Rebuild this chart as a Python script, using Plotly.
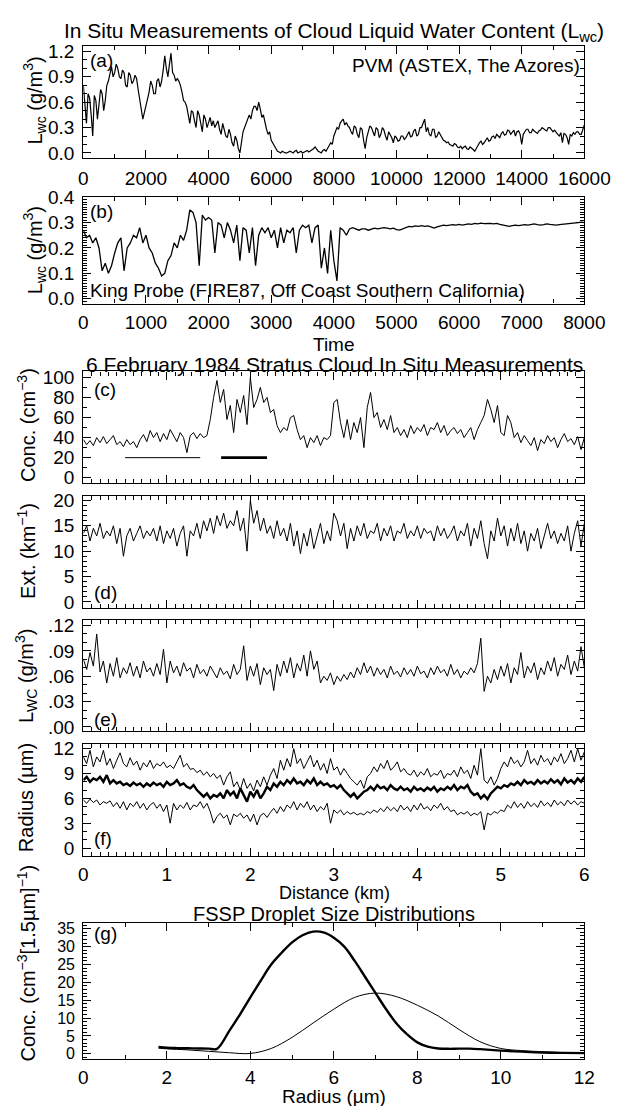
import plotly.graph_objects as go

# ---------------- data ----------------
# (a) PVM, ASTEX, sampled every 50 time units
pvm_step = 50
pvm_lwc = [0.80, 0.55, 0.35, 0.70, 0.65, 0.45, 0.20, 0.68, 0.62, 0.40,
           0.55, 0.75, 0.70, 0.50, 0.62, 0.80, 0.85, 0.95, 1.02, 0.90,
           0.95, 1.05, 1.00, 0.90, 0.88, 0.98, 0.95, 0.80, 0.78, 0.95,
           0.92, 0.82, 0.85, 0.92, 0.88, 0.75, 0.62, 0.50, 0.40, 0.48,
           0.55, 0.65, 0.72, 0.85, 0.80, 0.70, 0.70, 0.85, 0.88, 0.78,
           0.85, 0.98, 1.15, 1.00, 0.90, 1.05, 1.18, 0.95, 0.92, 0.85,
           0.88, 0.85, 0.80, 0.72, 0.62, 0.60, 0.55, 0.45, 0.35, 0.50,
           0.48, 0.38, 0.30, 0.50, 0.45, 0.35, 0.25, 0.45, 0.40, 0.30,
           0.35, 0.42, 0.32, 0.38, 0.30, 0.35, 0.38, 0.28, 0.22, 0.35,
           0.28, 0.20, 0.18, 0.28, 0.22, 0.12, 0.08, 0.20, 0.15, 0.05,
           0.00, 0.12, 0.25, 0.30, 0.35, 0.42, 0.45, 0.40, 0.50, 0.55,
           0.55, 0.50, 0.60, 0.52, 0.42, 0.45, 0.35, 0.28, 0.22, 0.25,
           0.15, 0.12, 0.08, 0.05, 0.02, 0.01, 0.00, 0.02, 0.01, 0.00,
           0.00, 0.01, 0.02, 0.01, 0.00, 0.02, 0.03, 0.00, 0.01, 0.02,
           0.00, 0.01, 0.02, 0.03, 0.01, 0.02, 0.03, 0.05, 0.07, 0.04,
           0.02, 0.01, 0.00, 0.03, 0.04, 0.02, 0.05, 0.08, 0.12, 0.10,
           0.20, 0.25, 0.30, 0.28, 0.35, 0.38, 0.40, 0.33, 0.36, 0.32,
           0.30, 0.25, 0.22, 0.32, 0.30, 0.22, 0.18, 0.30, 0.28, 0.15,
           0.05, 0.18, 0.25, 0.32, 0.30, 0.24, 0.20, 0.30, 0.28, 0.18,
           0.22, 0.30, 0.27, 0.20, 0.15, 0.25, 0.22, 0.18, 0.12, 0.20,
           0.18, 0.14, 0.15, 0.20, 0.20, 0.16, 0.18, 0.22, 0.25, 0.19,
           0.20, 0.26, 0.28, 0.20, 0.22, 0.30, 0.30, 0.35, 0.40, 0.25,
           0.30, 0.22, 0.20, 0.28, 0.28, 0.18, 0.20, 0.25, 0.22, 0.18,
           0.15, 0.14, 0.12, 0.13, 0.10, 0.09, 0.08, 0.11, 0.10, 0.07,
           0.06, 0.08, 0.05, 0.07, 0.08, 0.05, 0.04, 0.07, 0.06, 0.04,
           0.02, 0.06, 0.10, 0.12, 0.14, 0.10, 0.12, 0.16, 0.18, 0.14,
           0.15, 0.19, 0.20, 0.17, 0.22, 0.20, 0.18, 0.23, 0.25, 0.21,
           0.22, 0.27, 0.26, 0.22, 0.24, 0.27, 0.20, 0.25, 0.26, 0.22,
           0.10, 0.22, 0.25, 0.28, 0.28, 0.24, 0.24, 0.28, 0.26, 0.24,
           0.23, 0.26, 0.27, 0.30, 0.29, 0.27, 0.26, 0.30, 0.30, 0.27,
           0.25, 0.27, 0.24, 0.22, 0.20, 0.24, 0.12, 0.23, 0.22, 0.18,
           0.10, 0.22, 0.20, 0.24, 0.22, 0.25, 0.25, 0.22, 0.22, 0.27,
           0.33]
pvm_time = [pvm_step * i for i in range(len(pvm_lwc))]

# (b) King probe, FIRE87, sampled every 50 time units
king_step = 50
king_lwc = [0.27, 0.24, 0.25, 0.22, 0.24, 0.20, 0.11, 0.14, 0.10, 0.13,
            0.18, 0.22, 0.24, 0.11, 0.20, 0.22, 0.25, 0.24, 0.28, 0.22,
            0.25, 0.20, 0.18, 0.14, 0.12, 0.09, 0.10, 0.15, 0.17, 0.22,
            0.20, 0.25, 0.23, 0.27, 0.35, 0.34, 0.30, 0.13, 0.33, 0.31,
            0.32, 0.31, 0.18, 0.30, 0.29, 0.24, 0.30, 0.27, 0.22, 0.29,
            0.15, 0.28, 0.27, 0.18, 0.28, 0.13, 0.25, 0.28, 0.26, 0.28,
            0.24, 0.27, 0.20, 0.28, 0.22, 0.27, 0.26, 0.28, 0.18, 0.27,
            0.29, 0.28, 0.29, 0.22, 0.28, 0.29, 0.12, 0.20, 0.10, 0.27,
            0.15, 0.07, 0.28, 0.27, 0.25, 0.275, 0.28, 0.275, 0.27, 0.275,
            0.275, 0.27, 0.275, 0.278, 0.275, 0.278, 0.28, 0.278, 0.275, 0.278,
            0.272, 0.27, 0.275, 0.28, 0.285, 0.283, 0.287, 0.285, 0.288, 0.285,
            0.287, 0.283, 0.278, 0.283, 0.287, 0.29, 0.288, 0.29, 0.292, 0.29,
            0.293, 0.29, 0.292, 0.295, 0.293, 0.297, 0.295, 0.298, 0.296, 0.298,
            0.297, 0.295, 0.297, 0.293, 0.29, 0.287, 0.285, 0.288, 0.29, 0.288,
            0.29, 0.292, 0.29, 0.293, 0.295, 0.292, 0.29, 0.292, 0.295, 0.293,
            0.292, 0.29, 0.292, 0.293, 0.295, 0.297, 0.296, 0.298, 0.30, 0.302,
            0.30]
king_time = [king_step * i for i in range(len(king_lwc))]

# (c)-(f) 6 February 1984 stratus, sampled every 0.04 km
conc = [38, 33, 37, 32, 40, 35, 41, 34, 38, 42, 33, 36, 31, 38, 33, 36, 30, 38, 43, 36,
        47, 40, 45, 36, 44, 38, 48, 42, 36, 45, 40, 25, 42, 45, 39, 44, 40, 42, 58, 80,
        97, 75, 88, 58, 72, 45, 78, 65, 82, 53, 100, 70, 78, 90, 75, 80, 65, 68, 52, 45,
        50, 47, 60, 62, 48, 38, 42, 30, 40, 35, 42, 32, 40, 38, 42, 75, 78, 55, 40, 58,
        38, 55, 45, 60, 30, 70, 85, 60, 65, 50, 58, 48, 62, 45, 50, 42, 48, 40, 52, 44,
        50, 46, 53, 42, 50, 48, 55, 45, 52, 42, 47, 50, 44, 48, 40, 45, 50, 38, 48, 55,
        62, 78, 68, 55, 72, 45, 42, 62, 55, 40, 45, 35, 42, 37, 32, 40, 27, 38, 34, 42,
        36, 40, 30, 38, 44, 36, 39, 33, 41, 28, 40]
distance_km = [round(i * 0.04, 2) for i in range(len(conc))]
conc_bar_thin = [0.5, 1.4]
conc_bar_thick = [1.65, 2.2]
conc_bar_level = [20, 20]

ext = [13.5, 15.0, 12.0, 14.5, 13.0, 15.5, 12.5, 14.0, 13.0, 15.0, 11.5, 14.5, 9.0, 13.0, 14.5,
       12.0, 13.5, 15.0, 12.5, 14.0, 13.0, 14.5, 12.0, 15.0, 11.5, 14.0, 12.5, 14.5, 11.0, 13.5,
       15.0, 9.0, 14.0, 13.0, 15.5, 12.5, 16.0, 14.0, 16.5, 13.5, 17.0, 15.0, 17.5, 14.5, 16.0,
       15.0, 18.0, 14.0, 16.5, 10.0, 20.0, 15.5, 18.0, 14.0, 16.5, 13.5, 15.0, 12.5, 16.0, 13.0,
       14.5, 12.0, 15.5, 11.0, 14.0, 9.5, 13.5, 11.0, 14.5, 10.5, 13.0, 15.5, 11.5, 14.0, 12.0,
       17.5, 16.0, 13.0, 15.5, 10.5, 14.5, 12.0, 15.0, 13.0, 15.5, 12.5, 14.0, 13.5, 15.5, 12.0,
       14.5, 13.0, 15.0, 12.0, 14.0, 13.5, 15.5, 12.5, 14.0, 13.0, 15.0, 12.5, 14.5, 13.5, 14.0,
       12.0, 15.0, 13.0, 14.5, 12.5, 13.5, 15.0, 12.0, 14.0, 13.0, 15.5, 11.0, 14.5, 12.5, 16.0,
       11.5, 8.5, 14.0, 12.0, 16.5, 13.0, 15.0, 11.0, 14.5, 12.0, 15.5, 11.5, 14.0, 10.0, 13.5,
       12.0, 14.5, 10.5, 13.0, 15.5, 12.5, 14.0, 11.5, 13.5, 12.0, 15.0, 10.0, 13.5, 16.0, 11.0,
       15.5]

lwc_e = [0.080, 0.068, 0.088, 0.072, 0.110, 0.065, 0.078, 0.052, 0.075, 0.060,
         0.082, 0.058, 0.070, 0.063, 0.076, 0.060, 0.072, 0.058, 0.078, 0.065,
         0.070, 0.060, 0.075, 0.062, 0.092, 0.052, 0.078, 0.064, 0.072, 0.060,
         0.076, 0.066, 0.070, 0.058, 0.074, 0.063, 0.068, 0.060, 0.072, 0.065,
         0.058, 0.070, 0.062, 0.066, 0.057, 0.074, 0.062, 0.068, 0.096, 0.055,
         0.072, 0.060, 0.075, 0.050, 0.070, 0.062, 0.068, 0.043, 0.074, 0.060,
         0.078, 0.064, 0.082, 0.058, 0.075, 0.066, 0.085, 0.060, 0.090, 0.068,
         0.078, 0.052, 0.060, 0.055, 0.064, 0.050, 0.060, 0.054, 0.062, 0.056,
         0.065, 0.058, 0.070, 0.062, 0.076, 0.064, 0.072, 0.060, 0.070, 0.062,
         0.068, 0.058, 0.072, 0.062, 0.066, 0.059, 0.070, 0.062, 0.068, 0.060,
         0.072, 0.063, 0.066, 0.058, 0.070, 0.062, 0.072, 0.064, 0.068, 0.060,
         0.074, 0.062, 0.068, 0.058, 0.066, 0.062, 0.070, 0.064, 0.075, 0.105,
         0.042, 0.060, 0.052, 0.068, 0.056, 0.072, 0.060, 0.075, 0.052, 0.070,
         0.062, 0.088, 0.058, 0.072, 0.064, 0.076, 0.056, 0.070, 0.062, 0.078,
         0.066, 0.082, 0.060, 0.074, 0.068, 0.085, 0.062, 0.078, 0.066, 0.095,
         0.070]

radius_upper = [11.0, 10.2, 11.8, 9.8, 11.0, 10.4, 11.8, 10.0, 10.8, 9.6, 10.6, 11.5, 10.2, 9.8, 10.9,
                10.0, 10.5, 9.4, 10.3, 9.8, 10.6, 9.6, 10.2, 9.9, 10.4, 9.7, 10.0, 9.6, 10.4, 11.2,
                9.8, 10.2, 9.5, 9.6, 9.1, 9.4, 8.8, 9.2, 8.6, 9.0, 8.4, 8.8, 7.6, 8.6, 9.2,
                7.4, 8.0, 7.0, 8.4, 7.2, 7.8, 6.9, 8.2, 7.4, 8.6, 7.6, 8.8, 9.6, 8.4, 10.6,
                9.4, 10.8, 9.8, 12.0, 10.2, 10.8, 9.6, 10.4, 11.2, 9.8, 10.6, 9.4, 10.2, 9.0, 10.8,
                9.4, 9.8, 8.8, 9.6, 9.0, 8.4, 8.0, 7.6, 8.2, 7.2, 8.6, 9.0, 9.8, 9.2, 10.2,
                9.6, 10.6, 9.4, 9.8, 10.4, 9.2, 9.6, 9.0, 8.8, 9.4, 8.6, 9.2, 8.8, 9.6, 8.6,
                9.0, 8.8, 9.4, 8.4, 9.0, 8.8, 9.4, 8.6, 9.8, 9.0, 9.4, 8.4, 10.0, 8.8, 12.0,
                8.2, 7.8, 8.6, 7.6, 8.4, 9.6, 10.4, 9.8, 11.0, 10.2, 10.6, 9.8, 10.4, 11.8, 10.2,
                10.8, 10.0, 11.2, 10.4, 10.8, 10.0, 11.0, 10.4, 11.4, 10.2, 10.8, 11.8, 10.4, 12.0, 10.6,
                11.6]
radius_mean = [8.2, 8.6, 8.0, 8.4, 8.2, 8.6, 8.0, 8.8, 7.8, 8.2, 7.8, 8.0, 7.6, 7.8, 7.5,
               7.9, 7.6, 7.8, 7.4, 7.8, 7.5, 7.9, 7.6, 7.8, 7.4, 8.0, 7.6, 7.8, 8.2, 7.6,
               7.8, 7.4, 7.2, 7.6, 7.0, 6.6, 6.2, 6.6, 6.0, 6.4, 6.2, 6.6, 6.0, 7.0, 6.4,
               6.8, 6.0, 7.2, 6.4, 5.6, 6.8, 6.2, 7.0, 6.0, 6.6, 7.4, 7.0, 7.8, 7.4, 8.0,
               7.6, 8.2, 7.8, 8.4, 7.8, 8.0, 7.6, 8.2, 7.8, 8.4, 7.6, 8.0, 7.6, 7.8, 7.4,
               7.6, 7.2, 7.6, 7.0, 6.6, 6.2, 6.6, 6.0, 6.4, 6.8, 7.0, 7.4, 7.0, 7.6, 7.2,
               7.4, 7.0, 7.6, 7.2, 7.0, 7.4, 7.0, 7.2, 6.8, 7.4, 7.0, 7.2, 6.9, 7.3, 7.0,
               7.4, 6.8, 7.2, 7.0, 7.4, 7.1, 7.6, 7.0, 7.4, 7.2, 7.6, 6.8, 6.4, 6.6, 6.0,
               6.4, 5.9, 6.6, 7.0, 7.4, 7.2, 7.6, 7.4, 7.8, 7.6, 8.0, 7.6, 8.2, 7.8, 8.0,
               7.7, 8.2, 7.8, 8.1, 7.8, 8.3, 7.9, 8.2, 7.7, 8.4, 7.9, 8.2, 7.8, 8.4, 8.0,
               8.6]
radius_lower = [5.8, 5.4, 5.9, 5.5, 5.8, 5.2, 5.6, 5.4, 5.7, 5.0, 5.5, 4.8, 5.6, 4.6, 5.4,
                5.0, 5.6, 4.8, 5.4, 4.6, 5.2, 5.5, 4.8, 5.3, 4.4, 5.2, 3.0, 5.4, 4.6, 5.2,
                4.8, 5.5, 4.6, 5.2, 5.0, 5.6, 4.8, 5.4, 4.4, 3.0, 3.8, 4.2, 3.6, 4.0, 2.8,
                4.1, 3.8, 4.2, 3.6, 4.0, 3.2, 4.1, 2.8, 3.9, 4.2, 3.7, 4.3, 4.8, 4.2, 5.0,
                4.4, 5.2, 4.8, 5.6, 4.6, 5.4, 4.9, 5.6, 4.6, 5.2, 4.4, 5.0, 4.6, 5.4, 3.0,
                4.6, 4.2, 4.6, 4.0, 4.4, 4.1, 4.3, 4.0, 4.2, 4.0, 4.4, 4.2, 4.6, 4.3, 4.8,
                4.4, 5.0, 4.5, 4.9, 4.4, 5.2, 4.6, 5.0, 4.4, 5.2, 4.6, 5.4, 4.7, 5.0, 4.5,
                5.2, 4.8, 5.4, 4.6, 5.0, 4.4, 4.6, 4.0, 4.3, 4.1, 4.4, 3.9, 4.2, 4.0, 4.4,
                2.2, 4.2, 4.0, 4.4, 4.2, 4.6, 4.4, 5.2, 4.8, 5.6, 4.9, 5.4, 4.8, 5.6, 5.0,
                5.4, 4.9, 5.7, 5.1, 5.5, 5.0, 5.8, 5.2, 5.6, 5.1, 5.8, 5.3, 5.7, 5.2, 5.6,
                5.4]

# (g) FSSP droplet size distributions
fssp_r_thick = [1.8, 2.0, 2.25, 2.5, 2.75, 3.0, 3.2, 3.5, 3.75, 4.0, 4.25, 4.5, 4.75, 5.0, 5.25,
                5.5, 5.75, 6.0, 6.25, 6.5, 6.75, 7.0, 7.25, 7.5, 7.75, 8.0, 8.25, 8.5, 8.75,
                9.0, 9.25, 9.5, 9.75, 10.0, 10.5, 11.0, 11.5, 12.0]
fssp_n_thick = [1.9, 1.7, 1.6, 1.55, 1.5, 1.45, 1.4, 6.5, 11.0, 15.8, 20.5, 25.0, 28.3, 31.2, 33.2,
                34.2, 34.0, 32.5, 30.0, 26.0, 21.5, 17.0, 12.5, 8.5, 5.5, 3.2, 2.0, 1.5, 1.4,
                1.45, 1.45, 1.3, 1.1, 0.9, 0.6, 0.35, 0.25, 0.2]
fssp_r_thin = [1.8, 2.0, 2.5, 3.0, 3.5, 4.0, 4.5, 5.0, 5.5, 6.0, 6.5, 7.0, 7.5, 8.0, 8.5,
               9.0, 9.5, 10.0, 10.5, 11.0, 11.5, 12.0]
fssp_n_thin = [1.6, 1.4, 1.1, 0.7, 0.3, 0.1, 1.5, 4.6, 8.6, 12.5, 15.8, 17.0, 16.0, 13.6, 10.6,
               6.8, 3.4, 1.5, 0.9, 0.6, 0.35, 0.2]

# ---------------- figure ----------------
W, H = 628, 1106
FONT = "Liberation Sans, Arial, Helvetica, sans-serif"
FS_TICK = 19
FS_TITLE = 21
FS_TEXT = 19
FS_YT = 20
X0, X1 = 74, 601
BLACK = "black"


def ydom(top, bot):
    return [1 - bot / H, 1 - top / H]


def px(x):
    return x / W


def py(y):
    return 1 - y / H


fig = go.Figure()


def line(x, y, ax, width=1.0, shape="linear"):
    fig.add_trace(go.Scatter(x=x, y=y, mode="lines", xaxis="x" + ax, yaxis="y" + ax,
                             line=dict(color=BLACK, width=width, shape=shape),
                             showlegend=False, hoverinfo="skip"))


line(pvm_time, pvm_lwc, "", 1.2)
line(king_time, king_lwc, "2", 1.3)
line(distance_km, conc, "3", 1.0)
line(conc_bar_thin, conc_bar_level, "3", 1.0)
line(conc_bar_thick, conc_bar_level, "3", 2.6)
line(distance_km, ext, "4", 1.0)
line(distance_km, lwc_e, "5", 1.0)
line(distance_km, radius_upper, "6", 1.0)
line(distance_km, radius_mean, "6", 2.4)
line(distance_km, radius_lower, "6", 1.0)
line(fssp_r_thin, fssp_n_thin, "7", 1.0, "spline")
line(fssp_r_thick, fssp_n_thick, "7", 2.4, "spline")


def ax(anchor, dom, rng, dtick, minor, showlabels=True, standoff=4, fsize=FS_TICK, **kw):
    d = dict(domain=dom, range=rng, anchor=anchor, showline=True, linecolor=BLACK, linewidth=1.3,
             mirror="allticks", ticks="inside", ticklen=8, tickwidth=1.2, tickcolor=BLACK,
             showgrid=False, zeroline=False, showticklabels=showlabels,
             ticklabelstandoff=standoff,
             tickfont=dict(family=FONT, size=fsize, color=BLACK),
             minor=dict(dtick=minor, ticks="inside", ticklen=4, tickwidth=1, tickcolor=BLACK,
                        showgrid=False))
    if dtick is not None:
        d["dtick"] = dtick
        d["tick0"] = 0
    d.update(kw)
    return d


xd = [X0 / W, X1 / W]
panels = {"": (28, 142), "2": (182, 290), "3": (359, 472), "4": (485, 599),
          "5": (611, 724), "6": (737, 851), "7": (919, 1057)}

lay = {}
lay["xaxis"] = ax("y", xd, [0, 16000], 2000, 1000, standoff=3, tickformat="d")
lay["yaxis"] = ax("x", ydom(*panels[""]), [-0.058, 1.27], 0.3, 0.1, tickformat=".1f")
lay["xaxis2"] = ax("y2", xd, [0, 8000], 1000, 500, standoff=2, tickformat="d")
lay["yaxis2"] = ax("x2", ydom(*panels["2"]), [-0.019, 0.4], 0.1, 0.01, tickformat=".1f")
for k, (rng, dt, mn) in {"3": ([-5, 105.9], 20, 10), "4": ([-1.17, 20.97], 5, 1),
                         "6": ([-0.95, 12.6], 3, 1)}.items():
    lay["xaxis" + k] = ax("y" + k, xd, [0, 6], 1, 0.1, showlabels=(k == "6"), standoff=1)
    lay["yaxis" + k] = ax("x" + k, ydom(*panels[k]), rng, dt, mn)
lay["xaxis5"] = ax("y5", xd, [0, 6], 1, 0.1, showlabels=False)
lay["yaxis5"] = ax("x5", ydom(*panels["5"]), [-0.0047, 0.127], None, 0.01,
                   tickvals=[0, 0.03, 0.06, 0.09, 0.12],
                   ticktext=[".00", ".03", ".06", ".09", ".12"])
lay["xaxis7"] = ax("y7", xd, [0, 12], 2, 1, standoff=1)
lay["yaxis7"] = ax("x7", ydom(*panels["7"]), [-1.38, 36.65], 5, 1, fsize=16)

annots = []


def text(t, x, y, size, xanchor="center", angle=0):
    annots.append(dict(text=t, x=px(x), y=py(y), xref="paper", yref="paper", showarrow=False,
                       xanchor=xanchor, yanchor="middle", textangle=angle,
                       font=dict(family=FONT, size=size, color=BLACK)))


text("In Situ Measurements of Cloud Liquid Water Content (L<sub>wc</sub>)", 338, 14, FS_TITLE)
text("Time", 338, 332, FS_TEXT)
text("6 February 1984 Stratus Cloud In Situ Measurements", 338, 352, FS_TITLE)
text("Distance (km)", 338, 889, 18)
text("FSSP Droplet Size Distributions", 338, 910, 20)
text("Radius (\u00b5m)", 338, 1095, FS_TEXT)

text("(a)", 79, 43, FS_TEXT, xanchor="left")
text("PVM (ASTEX, The Azores)", 599, 48, FS_TEXT, xanchor="right")
text("(b)", 79, 197, FS_TEXT, xanchor="left")
text("King Probe (FIRE87, Off Coast Southern California)", 79, 277, FS_TEXT, xanchor="left")
text("(c)", 83, 377, FS_TEXT, xanchor="left")
text("(d)", 83, 583, FS_TEXT, xanchor="left")
text("(e)", 83, 712, FS_TEXT, xanchor="left")
text("(f)", 83, 833, FS_TEXT, xanchor="left")
text("(g)", 83, 930, FS_TEXT, xanchor="left")

text("L<sub>wc</sub> (g/m<sup>3</sup>)", 23, 84, FS_YT, angle=-90)
text("L<sub>wc</sub> (g/m<sup>3</sup>)", 23, 236, FS_YT, angle=-90)
text("Conc. (cm<sup>\u22123</sup>)", 14, 413, FS_YT, angle=-90)
text("Ext. (km<sup>\u22121</sup>)", 14, 541, FS_YT, angle=-90)
text("L<sub>WC</sub> (g/m<sup>3</sup>)", 14, 668, FS_YT, angle=-90)
text("Radius (\u00b5m)", 14, 792, FS_YT, angle=-90)
text("Conc. (cm<sup>\u22123</sup>[1.5\u00b5m]<sup>\u22121</sup>)", 14, 960, FS_YT, angle=-90)

fig.update_layout(width=W, height=H, margin=dict(l=0, r=0, t=0, b=0),
                  paper_bgcolor="white", plot_bgcolor="white", annotations=annots,
                  font=dict(family=FONT, size=FS_TICK, color=BLACK), **lay)

fig.write_html("out.html")
